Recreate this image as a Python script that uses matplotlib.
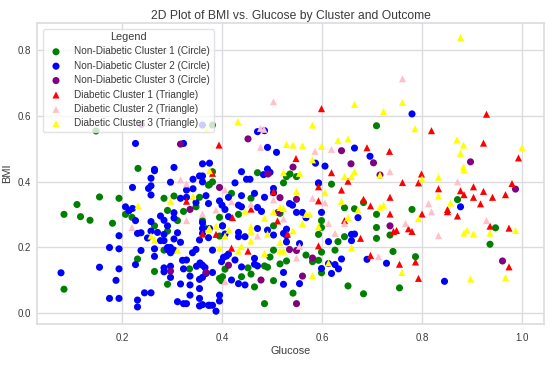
import matplotlib
matplotlib.use('Agg')
import matplotlib.pyplot as plt

plt.rcParams['font.family'] = ['Liberation Sans', 'DejaVu Sans']

# non-diabetic, circles
green_x = [.155,.194,.110,.084,.117,.136,.181,.207,.220,.284,.304,.355,.348,.373,.291,.323,.311,.265,.361,.291,.284,.231,.265,.335,.084,.291,
           .471,.381,.375,.419,.458,.433,.395,.363,.401,.395,.523,.529,.536,.549,.503,.619,.503,.496,.516,.529,.568,.581,.593,.599,.626,.632,.645,.593,
           .406,.439,.458,.452,.485,.491,.395,.401,.399,.503,.465,.542,.485,.652,.683,.645,.665,.683,.599,.599,.709,.709,.709,.516,.599,.593,
           .736,.780,.871,.947,.936,.742,.787,.755,.148,.232,.381,.381,.709]
green_y = [.353,.349,.330,.300,.293,.282,.273,.300,.291,.349,.356,.352,.323,.389,.312,.309,.281,.265,.281,.249,.191,.164,.126,.134,.072,.087,
           .427,.399,.391,.364,.349,.300,.291,.262,.265,.234,.396,.415,.423,.415,.265,.392,.191,.170,.149,.158,.176,.156,.160,.185,.191,.217,.232,.239,
           .133,.110,.118,.137,.143,.139,.105,.110,.098,.098,.079,.060,.028,.082,.058,.320,.317,.336,.281,.260,.300,.260,.227,.303,.122,.394,
           .237,.315,.345,.259,.209,.187,.171,.076,.554,.440,.572,.430,.570]

blue_x = [.221,.258,.253,.258,.265,.258,.297,.329,.342,.342,.355,.361,.361,.317,.329,.348,.368,.373,.207,.214,.221,.227,.258,.277,.284,.291,.304,.304,
          .361,.361,.361,.194,.231,.238,.251,.258,.271,.284,.277,.284,.304,.311,.317,.355,.373,.175,.194,.238,.265,.265,.291,.297,.291,.297,.304,.341,.348,
          .321,.329,.227,.155,.194,.078,.188,.284,.284,.297,.297,.323,.336,.349,.356,.361,.366,.355,.361,.368,.317,.336,.355,.336,.245,.258,.175,.194,.231,.231,
          .311,.323,.329,.355,.361,.355,.373,.439,.449,.456,.426,.483,.503,.503,.395,.400,.406,.413,.439,.433,.439,.465,.485,.471,.479,.535,.541,.549,.561,.568,.599,
          .413,.375,.471,.491,.503,.523,.529,.529,.433,.433,.446,.401,.406,.529,.555,.613,.381,.403,.409,.399,.426,.413,.381,.465,.439,.465,.471,.419,.433,.446,
          .523,.523,.555,.599,.619,.626,.633,.639,.613,.659,.659,.665,.672,.690,.593,.395,.395,.375,.381,.388,.877,.729,.845,
          .227,.323,.265,.304,.361,.375,.471,.485,.491,.509,.491,.361,.496,.780,.665,.696,.587,.606]
blue_y = [.382,.410,.379,.387,.433,.359,.398,.374,.378,.407,.417,.417,.399,.349,.352,.336,.357,.333,.323,.311,.318,.281,.278,.295,.282,.265,.305,.289,
          .275,.257,.242,.235,.242,.244,.228,.249,.245,.239,.220,.220,.225,.244,.215,.222,.229,.199,.195,.190,.195,.172,.199,.199,.193,.183,.191,.183,.193,
          .160,.161,.147,.139,.134,.122,.099,.137,.125,.142,.108,.134,.112,.142,.152,.145,.138,.102,.108,.120,.088,.085,.074,.054,.061,.061,.044,.044,.039,.018,
          .034,.028,.028,.044,.025,.021,.023,.430,.407,.407,.396,.421,.379,.366,.341,.328,.315,.352,.357,.328,.323,.364,.352,.321,.309,.333,.328,.306,.306,.290,.306,
          .293,.257,.257,.252,.237,.242,.255,.235,.245,.232,.232,.265,.240,.216,.211,.217,.191,.169,.173,.156,.161,.179,.123,.166,.140,.148,.143,.100,.089,.085,
          .123,.087,.089,.135,.120,.147,.134,.164,.150,.239,.220,.240,.290,.163,.396,.054,.036,.023,.023,.005,.323,.151,.096,
          .516,.516,.437,.443,.454,.456,.552,.555,.504,.489,.438,.572,.428,.606,.502,.477,.456,.447]

purple_x = [.336,.297,.368,.492,.395,.516,.549,.512,.535,.549,.581,.413,.478,.561,.549,.987,.736,.961,.716,.317,.452,.239,.639,.658,.703,.542,.897]
purple_y = [.315,.127,.123,.423,.382,.351,.346,.306,.193,.190,.167,.145,.100,.112,.028,.377,.265,.158,.420,.514,.530,.574,.494,.454,.457,.444,.460]

# diabetic, triangles
red_x = [.329,.361,.381,.619,.593,.639,.652,.593,.683,.697,.458,.511,.421,.388,.419,.452,.531,.593,.677,.697,.645,.503,
         .799,.761,.793,.833,.877,.884,.903,.923,.903,.941,.967,.980,.736,.917,.851,.851,.871,.800,.736,.743,.749,.773,.780,.936,.974,.755,.787,.974,.793,
         .394,.599,.929,.819,.923,.690,.735,.548,.993]
red_y = [.340,.240,.425,.427,.384,.374,.401,.341,.346,.326,.316,.280,.290,.239,.197,.188,.240,.204,.227,.175,.281,.369,
         .423,.397,.396,.378,.372,.360,.384,.370,.352,.352,.360,.394,.352,.332,.315,.308,.295,.301,.301,.248,.251,.256,.248,.264,.258,.148,.155,.140,.105,
         .511,.622,.605,.555,.517,.503,.492,.470,.472]

pink_x = [.317,.329,.361,.329,.220,.406,.419,.388,.458,.503,.523,.581,.606,.613,.626,.645,.471,.555,.549,.406,.713,
          .736,.871,.813,.819,.767,.833,.929,.503,.477,.484,.477,.761,.586,.619]
pink_y = [.405,.393,.301,.281,.260,.374,.338,.313,.331,.344,.286,.349,.335,.272,.242,.272,.234,.203,.167,.095,.171,
          .430,.399,.332,.308,.272,.235,.281,.643,.562,.559,.504,.713,.492,.498]

yellow_x = [.232,.297,.342,.258,.265,.311,.373,.523,.555,.645,.659,.665,.549,.606,.639,.446,.503,.516,.523,.485,.568,.575,.652,.672,.388,.375,.414,.458,.458,.491,.542,.561,.593,
            .458,.406,.516,.395,.433,.439,.516,.523,.485,.659,.613,.581,.800,.833,.884,.833,.857,.716,.723,.793,.884,.890,.903,.936,.987,.760,.897,.967,.716,
            .432,.368,.529,.375,.877,.761,.665,.723,.581,.786,.632,.652,.599,.561,.542,.870,.883,.877,1.000,.581,.883]
yellow_y = [.326,.340,.354,.234,.222,.191,.254,.427,.425,.415,.415,.430,.370,.366,.340,.310,.308,.321,.318,.288,.300,.300,.290,.313,.264,.257,.252,.262,.248,.240,.250,.272,.262,
            .219,.234,.214,.197,.188,.202,.188,.188,.181,.198,.152,.113,.408,.413,.435,.356,.334,.322,.328,.287,.243,.251,.241,.243,.251,.123,.103,.107,.420,
            .582,.559,.513,.433,.839,.641,.635,.613,.572,.561,.525,.530,.507,.509,.511,.527,.511,.486,.503,.466,.444]

TEXT = '#3a3a3a'
GRID = '#dcdce0'

fig = plt.figure(figsize=(5.56, 3.70), dpi=100)
ax = fig.add_axes([37/556, 1-324/370, 507/556, 301/370])
ax.set_axisbelow(True)
ax.grid(True, color=GRID, linewidth=1.0)
for s in ax.spines.values():
    s.set_color(GRID)
    s.set_linewidth(1.2)

kw = dict(s=26, edgecolors='none')
ax.scatter(green_x, green_y, c='green', marker='o', label='Non-Diabetic Cluster 1 (Circle)', **kw)
ax.scatter(blue_x, blue_y, c='blue', marker='o', label='Non-Diabetic Cluster 2 (Circle)', **kw)
ax.scatter(purple_x, purple_y, c='purple', marker='o', label='Non-Diabetic Cluster 3 (Circle)', **kw)
ax.scatter(red_x, red_y, c='red', marker='^', label='Diabetic Cluster 1 (Triangle)', **kw)
ax.scatter(pink_x, pink_y, c='pink', marker='^', label='Diabetic Cluster 2 (Triangle)', **kw)
ax.scatter(yellow_x, yellow_y, c='yellow', marker='^', label='Diabetic Cluster 3 (Triangle)', **kw)

ax.set_xlim(0.03, 1.044)
ax.set_ylim(-0.034, 0.883)
ax.set_xticks([0.2, 0.4, 0.6, 0.8, 1.0])
ax.set_yticks([0.0, 0.2, 0.4, 0.6, 0.8])
ax.tick_params(length=0, labelsize=7, labelcolor=TEXT)
ax.tick_params(axis='x', pad=6.5)
ax.tick_params(axis='y', pad=4)
ax.set_title('2D Plot of BMI vs. Glucose by Cluster and Outcome', fontsize=8.75, color=TEXT, pad=3)
ax.set_xlabel('Glucose', fontsize=7.8, color=TEXT, labelpad=2.5)
ax.set_ylabel('BMI', fontsize=8, color=TEXT, labelpad=4)

leg = ax.legend(title='Legend', loc='upper left', fontsize=7.2, title_fontsize=7.8, labelcolor=TEXT,
                borderaxespad=0.55, framealpha=0.8, edgecolor=GRID, labelspacing=0.44,
                handletextpad=0.85, borderpad=0.35)
leg.get_title().set_color(TEXT)

fig.savefig('out.png', dpi=100)
